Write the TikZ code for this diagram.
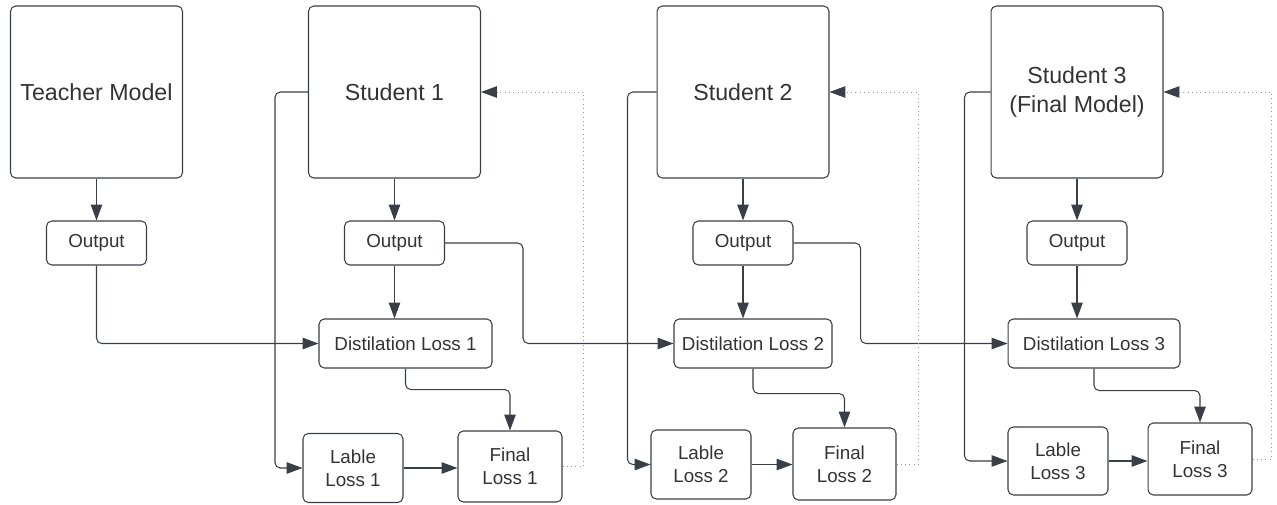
\documentclass[tikz,border=0pt]{standalone}
\usepackage{fontspec}
\setmainfont{Liberation Sans}
\usetikzlibrary{arrows.meta}

\definecolor{edge}{RGB}{58,62,70}
\definecolor{ink}{RGB}{51,51,51}

\tikzset{
  model/.style={draw=edge, line width=0.6pt, rounded corners=3pt, text=ink,
    align=center, minimum width=3.44cm, minimum height=3.44cm,
    font=\fontsize{13.2}{17}\selectfont},
  box/.style={draw=edge, line width=0.6pt, rounded corners=3pt, text=ink,
    align=center, inner sep=0pt, font=\fontsize{10.7}{13}\selectfont},
  outbox/.style={box, minimum width=2cm, minimum height=0.88cm},
  lossbox/.style={box, minimum height=0.98cm},
  pairbox/.style={box, minimum width=2cm, minimum height=1.38cm},
  flow/.style={draw=edge, line width=0.6pt, rounded corners=3pt,
    -{Triangle[length=9pt,width=6.5pt]}},
  back/.style={draw=edge!55, line width=0.45pt, dotted,
    -{Triangle[length=9pt,width=6.5pt,color=edge]}},
}

\begin{document}
\begin{tikzpicture}[x=0.02cm,y=-0.02cm]
  \useasboundingbox (0,0) rectangle (1277,504);

  % teacher
  \node[model] (teacher) at (96.5,92) {Teacher Model};
  \node[outbox] (tout) at (96.5,243) {Output};

  % first student
  \node[model] (s1) at (394.5,92) {Student 1};
  \node[outbox] (out1) at (394.5,243) {Output};
  \node[lossbox, minimum width=3.46cm] (dist1) at (405.5,343.5) {Distilation Loss 1};
  \node[pairbox] (lab1) at (353,468) {Lable\\Loss 1};
  \node[pairbox, minimum width=2.08cm, minimum height=1.42cm] (fin1) at (510,466.5) {Final\\Loss 1};

  % second student
  \node[model] (s2) at (743,92) {Student 2};
  \node[outbox] (out2) at (743,243) {Output};
  \node[lossbox, minimum width=3.16cm] (dist2) at (753,343.5) {Distilation Loss 2};
  \node[pairbox] (lab2) at (701,464.5) {Lable\\Loss 2};
  \node[pairbox, minimum width=2.06cm, minimum height=1.44cm] (fin2) at (844.5,464) {Final\\Loss 2};

  % third student
  \node[model] (s3) at (1077,92) {Student 3\\(Final Model)};
  \node[outbox] (out3) at (1077,243) {Output};
  \node[lossbox, minimum width=3.44cm] (dist3) at (1094,343.5) {Distilation Loss 3};
  \node[pairbox, minimum height=1.36cm] (lab3) at (1058,461) {Lable\\Loss 3};
  \node[pairbox, minimum width=2.08cm, minimum height=1.44cm] (fin3) at (1200,459) {Final\\Loss 3};

  \draw[flow] (teacher) -- (tout);
  \draw[flow] (tout.south) |- (dist1.west);

  \draw[flow] (s1) -- (out1);
  \draw[flow] (out1.south) -- (out1.south |- dist1.north);
  \draw[flow] (out1.east) -- ++(78,0) |- (dist2.west);
  \draw[flow] (s1.west) -- ++(-33,0) |- (lab1.west);
  \draw[flow] (dist1.south) -- ++(0,21) -| (fin1.north);
  \draw[flow] (lab1.east) -- (lab1.east -| fin1.west);
  \draw[back] (fin1.east) -- ++(21,0) |- (s1.east);

  \draw[flow] (s2) -- (out2);
  \draw[flow] (out2.south) -- (out2.south |- dist2.north);
  \draw[flow] (out2.east) -- ++(67,0) |- (dist3.west);
  \draw[flow] (s2.west) -- ++(-29,0) |- (lab2.west);
  \draw[flow] (dist2.south) -- ++(0,25) -| (fin2.north);
  \draw[flow] (lab2.east) -- (lab2.east -| fin2.west);
  \draw[back] (fin2.east) -- ++(22,0) |- (s2.east);

  \draw[flow] (s3) -- (out3);
  \draw[flow] (out3.south) -- (out3.south |- dist3.north);
  \draw[flow] (s3.west) -- ++(-26,0) |- (lab3.west);
  \draw[flow] (dist3.south) -- ++(0,22) -| (fin3.north);
  \draw[flow] (lab3.east) -- (lab3.east -| fin3.west);
  \draw[back] (fin3.east) -- ++(19,0) |- (s3.east);
\end{tikzpicture}
\end{document}
